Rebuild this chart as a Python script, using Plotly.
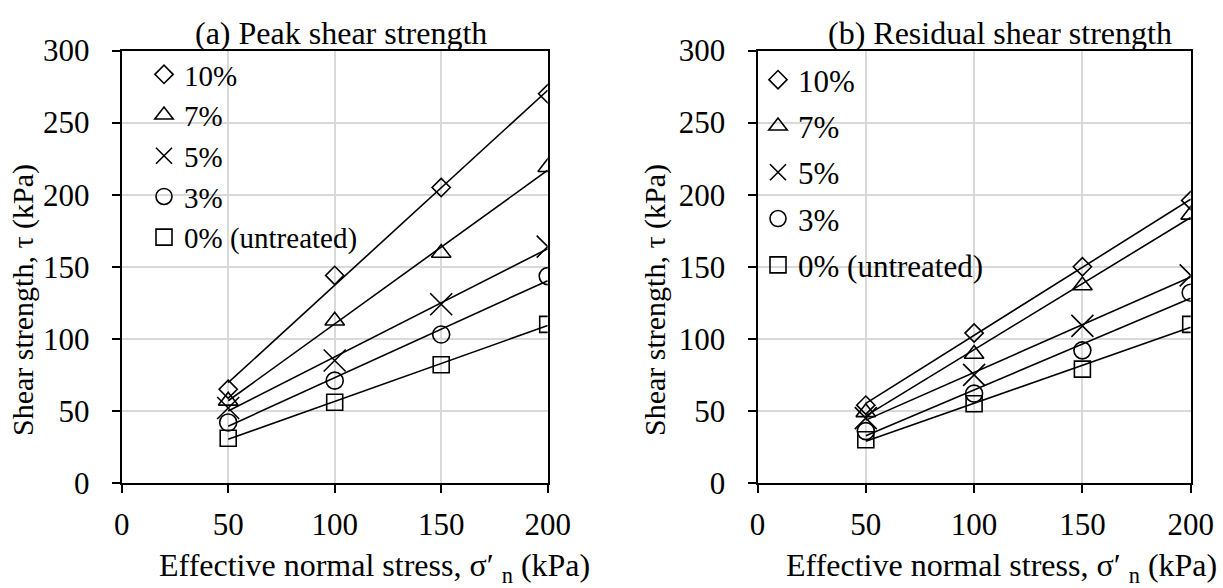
import numpy as np
import plotly.graph_objects as go

# ---------------- data ----------------
stress = [50, 100, 150, 200]
labels = ["10%", "7%", "5%", "3%", "0% (untreated)"]

peak_10 = [65, 144, 205, 270]
peak_7 = [57, 112.5, 159.5, 219]
peak_5 = [52, 85, 124, 164]
peak_3 = [42, 71, 103, 143.5]
peak_0 = [31, 56, 82, 110]

res_10 = [54, 104, 150, 196]
res_7 = [49, 89.5, 137, 186]
res_5 = [45, 75, 109, 144]
res_3 = [36, 62, 92, 132]
res_0 = [30, 55, 79, 110]

x_ticks = [0, 50, 100, 150, 200]
y_ticks = [0, 50, 100, 150, 200, 250, 300]

# ---------------- styling ----------------
W, H = 1223, 588
FONT = "Liberation Serif, Times New Roman, serif"
FS = 31
symbols = ["diamond-open", "triangle-up-open", "x-thin-open", "circle-open", "square-open"]
sizes = [14, 17, 22, 17, 16]

fig = go.Figure()

def add_panel(series, xa, ya, legend, grouped):
    for i, (lab, yv) in enumerate(zip(labels, series)):
        # linear trendline from the data
        k, b = np.polyfit(stress, yv, 1)
        xl = [stress[0], stress[-1]]
        yl = [k * xv + b for xv in xl]
        fig.add_trace(go.Scatter(x=xl, y=yl, mode="lines", xaxis=xa, yaxis=ya,
                                 line=dict(color="black", width=1.6),
                                 showlegend=False, hoverinfo="skip"))
    for i, (lab, yv) in enumerate(zip(labels, series)):
        extra = dict(legendgroup=legend + str(i)) if grouped else {}
        fig.add_trace(go.Scatter(x=stress, y=yv, mode="markers", name=lab,
                                 xaxis=xa, yaxis=ya, legend=legend,
                                 marker=dict(symbol=symbols[i], size=sizes[i], color="black",
                                             line=dict(color="black", width=1.6)),
                                 **extra))

add_panel([peak_10, peak_7, peak_5, peak_3, peak_0], "x", "y", "legend", False)
add_panel([res_10, res_7, res_5, res_3, res_0], "x2", "y2", "legend2", True)

def px_x(p):
    return p / W

def px_y(p):
    return 1 - p / H

ydom = [px_y(483), px_y(50.5)]

axis_common = dict(
    showline=True, linecolor="black", linewidth=2, mirror=True,
    ticks="outside", ticklen=8, tickwidth=2, tickcolor="black",
    showgrid=True, gridcolor="#d9d9d9", gridwidth=1.5, zeroline=False,
    automargin=False, tickangle=0,
    tickfont=dict(family=FONT, size=FS, color="black"),
)

fig.update_layout(
    template="none",
    width=W, height=H,
    margin=dict(l=0, r=0, t=0, b=0, autoexpand=False),
    paper_bgcolor="white", plot_bgcolor="white",
    font=dict(family=FONT, size=FS, color="black"),
    xaxis=dict(domain=[px_x(121.7), px_x(547.7)], range=[0, 200], tickvals=x_ticks,
               anchor="y", ticklabelstandoff=5, **axis_common),
    yaxis=dict(domain=ydom, range=[0, 300], tickvals=y_ticks, anchor="x",
               ticklabelstandoff=16, **axis_common),
    xaxis2=dict(domain=[px_x(757.5), px_x(1190.7)], range=[0, 200], tickvals=x_ticks,
                anchor="y2", ticklabelstandoff=5, **axis_common),
    yaxis2=dict(domain=ydom, range=[0, 300], tickvals=y_ticks, anchor="x2",
                ticklabelstandoff=16, **axis_common),
    legend=dict(x=px_x(144), y=px_y(49), xanchor="left", yanchor="top",
                xref="container", yref="container", borderwidth=0,
                bgcolor="rgba(0,0,0,0)", font=dict(family=FONT, size=29),
                tracegroupgap=0, itemclick=False),
    legend2=dict(x=px_x(758), y=px_y(53), xanchor="left", yanchor="top",
                 xref="container", yref="container", borderwidth=0,
                 bgcolor="rgba(0,0,0,0)", font=dict(family=FONT, size=FS),
                 tracegroupgap=3, itemclick=False),
    showlegend=True,
)

ann = dict(xref="paper", yref="paper", showarrow=False)
tfont = dict(family=FONT, size=32, color="black")
xfont = dict(family=FONT, size=32, color="black")
yfont = dict(family=FONT, size=30, color="black")
fig.add_annotation(text="(a) Peak shear strength", x=px_x(341), y=px_y(33),
                   xanchor="center", yanchor="middle", font=tfont, **ann)
fig.add_annotation(text="(b) Residual shear strength", x=px_x(1000), y=px_y(33),
                   xanchor="center", yanchor="middle", font=tfont, **ann)
fig.add_annotation(text="Effective normal stress, σ′ <sub>n</sub> (kPa)", x=px_x(374), y=px_y(567),
                   xanchor="center", yanchor="middle", font=xfont, **ann)
fig.add_annotation(text="Effective normal stress, σ′ <sub>n</sub> (kPa)", x=px_x(1219), y=px_y(567),
                   xanchor="right", yanchor="middle", font=xfont, **ann)
fig.add_annotation(text="Shear strength, τ (kPa)", x=px_x(23), y=px_y(300), textangle=-90,
                   xanchor="center", yanchor="middle", font=yfont, **ann)
fig.add_annotation(text="Shear strength, τ (kPa)", x=px_x(655), y=px_y(300), textangle=-90,
                   xanchor="center", yanchor="middle", font=yfont, **ann)

fig.write_html("out.html")
